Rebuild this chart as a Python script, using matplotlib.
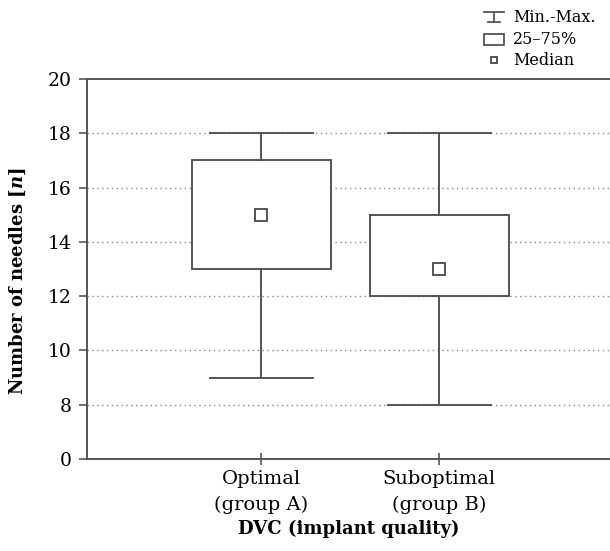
import numpy as np
import matplotlib
matplotlib.use('Agg')
import matplotlib.pyplot as plt
from matplotlib.lines import Line2D
from matplotlib.patches import Rectangle
from matplotlib.legend_handler import HandlerBase

plt.rcParams['font.family'] = ['DejaVu Serif']
plt.rcParams['mathtext.fontset'] = 'custom'
plt.rcParams['mathtext.it'] = 'DejaVu Serif:italic:bold'

# data
groups = ['Optimal\n(group A)', 'Suboptimal\n(group B)']
mins = [9, 8]
q1 = [13, 12]
medians = [15, 13]
q3 = [17, 15]
maxs = [18, 18]
yticks = [0, 8, 10, 12, 14, 16, 18, 20]

EDGE = '#555555'


# broken y axis: 0..8 squeezed to one step, 8..20 linear
def fwd(v):
    v = np.asarray(v, dtype=float)
    return np.where(v < 8, v / 8.0, (v - 6) / 2.0)


def inv(p):
    p = np.asarray(p, dtype=float)
    return np.where(p < 1, p * 8.0, p * 2.0 + 6)


class MinMaxHandler(HandlerBase):
    def create_artists(self, legend, orig, xd, yd, w, h, fs, trans):
        xm = xd + w / 2
        kw = dict(color=EDGE, lw=1.3, transform=trans)
        return [Line2D([xd, xd + w], [yd + h, yd + h], **kw),
                Line2D([xm, xm], [yd + h, yd], **kw),
                Line2D([xd + 0.2 * w, xd + 0.8 * w], [yd, yd], **kw)]


class BoxHandler(HandlerBase):
    def create_artists(self, legend, orig, xd, yd, w, h, fs, trans):
        r = Rectangle((xd, yd - 0.1 * h), w, h * 1.1, facecolor='white',
                      edgecolor=EDGE, lw=1.3, transform=trans)
        return [r]


fig = plt.figure(figsize=(6.1, 5.51), dpi=100)
ax = fig.add_axes([87 / 610, 92 / 551, 523 / 610, 380 / 551])

ax.set_yscale('function', functions=(fwd, inv))
ax.set_ylim(0, 20)
ax.set_xlim(0.02, 2.96)
ax.set_yticks(yticks)
ax.set_yticklabels([str(t) for t in yticks])

for t in yticks[1:-1]:
    ax.axhline(t, color='#888888', lw=1.0, ls=(0, (1, 2.5)), zorder=0)

stats = []
for i in range(len(groups)):
    stats.append(dict(med=medians[i], q1=q1[i], q3=q3[i],
                      whislo=mins[i], whishi=maxs[i], fliers=[]))
pos = np.arange(1, len(groups) + 1)
ax.bxp(stats, positions=pos, widths=0.78, capwidths=0.58, patch_artist=True,
       showfliers=False,
       boxprops=dict(facecolor='white', edgecolor=EDGE, lw=1.4),
       whiskerprops=dict(color=EDGE, lw=1.4),
       capprops=dict(color=EDGE, lw=1.4),
       medianprops=dict(linestyle='none'))
ax.plot(pos, medians, ls='none', marker='s', ms=8, mfc='white', mec=EDGE,
        mew=1.4, zorder=5)

ax.set_xticks(pos)
ax.set_xticklabels(groups, fontsize=14, linespacing=1.55)
ax.set_xlabel('DVC (implant quality)', fontsize=13, fontweight='bold', labelpad=4)
ax.set_ylabel('Number of needles [$n$]', fontsize=13, fontweight='bold')
ax.yaxis.set_label_coords(-0.113, 0.468)

ax.spines['right'].set_visible(False)
for s in ['left', 'bottom', 'top']:
    ax.spines[s].set_color(EDGE)
    ax.spines[s].set_linewidth(1.4)
ax.tick_params(axis='y', direction='out', length=6, width=1.2, color=EDGE,
               labelsize=13.5, pad=5)
ax.tick_params(axis='x', direction='inout', length=8, width=1.2, color=EDGE,
               pad=4)

h1 = Line2D([], [])
h2 = Rectangle((0, 0), 1, 1)
h3 = Line2D([], [], ls='none', marker='s', ms=5, mfc='white', mec=EDGE, mew=1.4)
fig.legend([h1, h2, h3], ['Min.-Max.', '25\u201375%', 'Median'],
           handler_map={h1: MinMaxHandler(), h2: BoxHandler()},
           loc='upper right', bbox_to_anchor=(1.0, 1.01), frameon=False,
           fontsize=11.5, handlelength=1.2, handleheight=0.6, labelspacing=0.3,
           handletextpad=0.6)

plt.savefig('out.png', dpi=100)
